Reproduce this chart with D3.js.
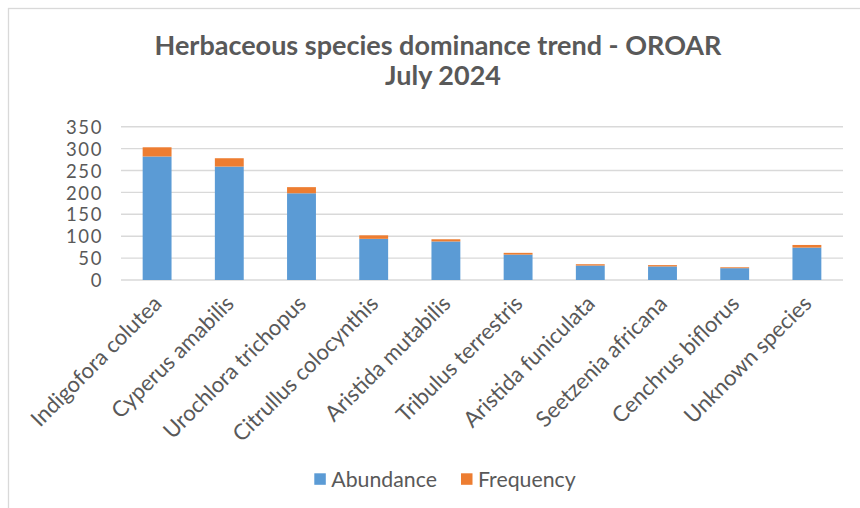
<!DOCTYPE html>
<html>
<head>
<meta charset="utf-8">
<script src="https://cdn.jsdelivr.net/npm/d3@7"></script>
<style>
  html, body { margin: 0; padding: 0; background: #fff; }
  svg { display: block; }
  text { font-family: Lato, "Open Sans", sans-serif; fill: #595959; }
</style>
</head>
<body>
<script>
// ---- data ----
const species = ["Indigofora colutea", "Cyperus amabilis", "Urochlora trichopus", "Citrullus colocynthis",
  "Aristida mutabilis", "Tribulus terrestris", "Aristida funiculata", "Seetzenia africana",
  "Cenchrus biflorus", "Unknown species"];
const abundance = [282, 259, 198, 94, 88, 58, 33, 31, 27, 74];
const frequency = [21, 19, 14, 8, 5, 4, 3, 3, 2, 6];
const yTicks = [0, 50, 100, 150, 200, 250, 300, 350];
const seriesNames = ["Abundance", "Frequency"];
const colors = ["#5B9BD5", "#ED7D31"];
const titleLines = ["Herbaceous species dominance trend - OROAR", "July 2024"];

const W = 860, H = 508;
const svg = d3.select("body").append("svg").attr("width", W).attr("height", H);

// chart border
svg.append("rect").attr("x", 8.5).attr("y", 8.5).attr("width", 900).attr("height", 600)
  .attr("fill", "none").attr("stroke", "#d9d9d9").attr("stroke-width", 1.3);

function fitSize(str, weight, target) {
  const t = svg.append("text").attr("font-size", 20).attr("font-weight", weight).text(str);
  const len = t.node().getComputedTextLength();
  t.remove();
  return 20 * target / len;
}

const x = d3.scaleBand().domain(species).range([121, 843]).paddingInner(0.6).paddingOuter(0.3);
const y = d3.scaleLinear().domain([0, 350]).range([280, 126.7]);

// gridlines
svg.append("g").selectAll("line").data(yTicks).join("line")
  .attr("x1", 121).attr("x2", 843)
  .attr("y1", d => y(d)).attr("y2", d => y(d))
  .attr("stroke", "#d9d9d9").attr("stroke-width", 1.4);

// y axis labels
const yAxis = d3.axisLeft(y).tickValues(yTicks).tickSize(0).tickPadding(0);
const yg = svg.append("g").attr("transform", "translate(103,0)").call(yAxis);
yg.select(".domain").remove();
yg.selectAll("text").attr("font-size", 18.5).attr("fill", "#595959")
  .attr("letter-spacing", 1.6)
  .attr("font-family", "Lato, sans-serif").attr("dy", "0.36em").attr("x", 0);

// stacked bars
const rows = species.map((s, i) => ({ s, Abundance: abundance[i], Frequency: frequency[i] }));
const stack = d3.stack().keys(seriesNames)(rows);
svg.append("g").selectAll("g").data(stack).join("g")
  .attr("fill", (d, i) => colors[i])
  .selectAll("rect").data(d => d).join("rect")
  .attr("x", d => x(d.data.s))
  .attr("width", x.bandwidth())
  .attr("y", d => y(d[1]))
  .attr("height", d => y(d[0]) - y(d[1]));

// x labels
const xFont = fitSize("Indigofora colutea", 400, 174);
svg.append("g").selectAll("text").data(species).join("text")
  .attr("font-size", xFont)
  .attr("text-anchor", "end")
  .attr("transform", d => `translate(${x(d) + x.bandwidth() / 2 + 6},305) rotate(-45)`)
  .text(d => d);

// title
const tFont = fitSize(titleLines[0], 700, 567);
svg.append("text").attr("x", 438).attr("y", 55).attr("text-anchor", "middle")
  .attr("font-weight", 700).attr("font-size", tFont).text(titleLines[0]);
svg.append("text").attr("x", 443).attr("y", 85).attr("text-anchor", "middle")
  .attr("font-weight", 700).attr("font-size", tFont).text(titleLines[1]);

// legend
const lFont = fitSize("Abundance", 400, 105.7);
const legendX = [314.3, 461];
const lg = svg.append("g").selectAll("g").data(seriesNames).join("g")
  .attr("transform", (d, i) => `translate(${legendX[i]},473.3)`);
lg.append("rect").attr("width", 11.5).attr("height", 11.5).attr("fill", (d, i) => colors[i]);
lg.append("text").attr("x", 17).attr("y", 13.4).attr("font-size", lFont).text(d => d);
</script>
</body>
</html>
